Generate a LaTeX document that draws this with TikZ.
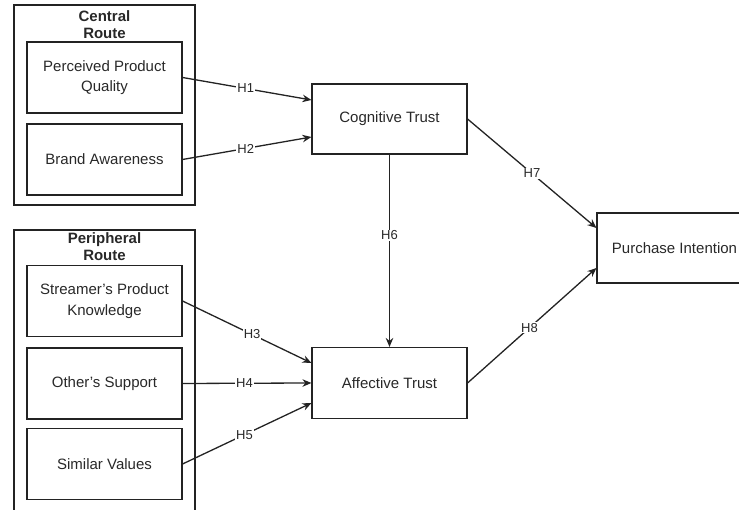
\documentclass[tikz,border=0pt]{standalone}
\usepackage{fontspec}
\setmainfont{Liberation Sans}
\usepackage{xcolor}
\usepackage{tikz}
\usetikzlibrary{arrows.meta,calc}
\definecolor{cline}{RGB}{35,35,35}
\definecolor{ctext}{RGB}{40,40,40}

\begin{document}
\begin{tikzpicture}[x=1pt, y=1pt,
      construct/.style={draw=cline, line width=1.1pt, minimum width=155pt, minimum height=71pt,
                        align=center, inner sep=3pt, text=ctext,
                        font=\fontsize{15}{20.5}\selectfont},
      route/.style={draw=cline, line width=1.1pt, minimum width=181pt, inner sep=0pt},
      routetitle/.style={align=center, text=ctext, font=\fontsize{15}{17}\selectfont\bfseries},
      hyp/.style={fill=white, inner sep=1pt, text=ctext, font=\fontsize{13}{14}\selectfont},
      arrow/.style={-{Stealth[length=9pt, width=7.5pt]}, line width=1.3pt, cline}
    ]
    \useasboundingbox (0,0) rectangle (739,510);
    \clip (0,0) rectangle (739,510);

    % route boxes
    \node[route, minimum height=200pt] (central) at (104.5,405) {};
    \node[routetitle] (centraltitle) at (104.5,485) {Central\\Route};
    \node[route, minimum height=300pt] (peripheral) at (104.5,130) {};
    \node[routetitle] (peripheraltitle) at (104.5,263) {Peripheral\\Route};

    % antecedents
    \node[construct] (ppq) at (104.5,432.5) {Perceived Product\\Quality};
    \node[construct] (ba) at (104.5,350.5) {Brand Awareness};
    \node[construct] (spk) at (104.5,209) {Streamer's Product\\Knowledge};
    \node[construct] (os) at (104.5,126.5) {Other's Support};
    \node[construct] (sv) at (104.5,46) {Similar Values};

    % trust and outcome
    \node[construct, minimum height=70pt] (cog) at (389.5,391) {Cognitive Trust};
    \node[construct] (aff) at (389.5,127) {Affective Trust};
    \node[construct, minimum height=70pt] (pur) at (674.5,262) {Purchase Intention};

    \draw[arrow] (ppq.east) -- ($(cog.west)+(0,19)$) node[hyp, pos=0.49] (h1) {H1};
    \draw[arrow] (ba.east) -- ($(cog.west)+(0,-18)$) node[hyp, pos=0.49] (h2) {H2};
    \draw[arrow] (spk.east) -- ($(aff.west)+(0,20)$) node[hyp, pos=0.54] (h3) {H3};
    \draw[arrow] (os.east) -- (aff.west) node[hyp, pos=0.48] (h4) {H4};
    \draw[arrow] (sv.east) -- ($(aff.west)+(0,-20)$) node[hyp, pos=0.48] (h5) {H5};
    \draw[arrow] (cog.south) -- (aff.north) node[hyp, pos=0.42] (h6) {H6};
    \draw[arrow] (cog.east) -- ($(pur.west)+(0,20)$) node[hyp, pos=0.5] (h7) {H7};
    \draw[arrow] (aff.east) -- ($(pur.west)+(0,-20)$) node[hyp, pos=0.48] (h8) {H8};
  \end{tikzpicture}
\end{document}
